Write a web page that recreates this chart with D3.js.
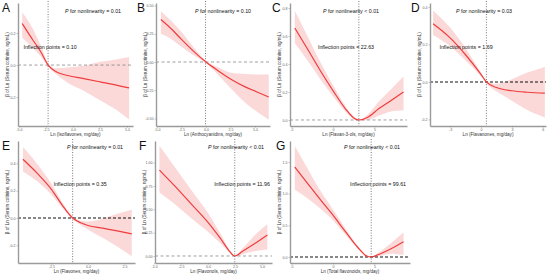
<!DOCTYPE html>
<meta charset="utf-8">
<script src="https://d3js.org/d3.v7.min.js"></script>
<style>
  body { margin: 0; background: #fff; }
  text { font-family: "Liberation Sans", Arial, sans-serif; }
</style>
<body></body>
<script>

// values: x in Ln(mg/day), fit + 95% CI of beta
var isoX   = [-4.7, -3.7, -3.0, -2.3, -1.6, -0.5, 1.0, 2.5, 4.0, 5.2];
var isoFit = [0.26, 0.155, 0.085, 0.0, -0.04, -0.065, -0.085, -0.105, -0.125, -0.143];
var isoLo  = [0.17, 0.105, 0.055, -0.01, -0.055, -0.11, -0.16, -0.22, -0.28, -0.34];
var isoHi  = [0.33, 0.225, 0.125, 0.01, -0.02, -0.015, -0.005, 0.02, 0.035, 0.05];

var antX   = [-4.6, -3.5, -2.5, -1.2, 0, 1.2, 2.5, 4.0, 5.2, 6.4];
var antFit = [0.376, 0.29, 0.2, 0.09, 0, -0.075, -0.15, -0.22, -0.265, -0.31];
var antLo  = [0.25, 0.2, 0.135, 0.055, -0.01, -0.11, -0.23, -0.36, -0.44, -0.51];
var antHi  = [0.45, 0.36, 0.265, 0.125, 0.01, -0.045, -0.095, -0.105, -0.11, -0.11];

var fl3X   = [-4.6, -3.0, -1.5, 0, 1.5, 2.5, 3.12, 4.2, 5.5, 7.0, 8.5];
var fl3Fit = [0.657, 0.5, 0.35, 0.21, 0.08, 0.015, 0, 0.02, 0.08, 0.14, 0.2];
var fl3Lo  = [0.55, 0.42, 0.29, 0.17, 0.06, 0.005, -0.005, 0.0, 0.03, 0.06, 0.07];
var fl3Hi  = [0.78, 0.59, 0.41, 0.25, 0.1, 0.025, 0.005, 0.04, 0.13, 0.22, 0.31];

var fnoX   = [-4.65, -3.0, -1.5, 0, 0.52, 1.5, 3.0, 4.5, 6.2];
var fnoFit = [0.31, 0.235, 0.145, 0.04, 0, -0.03, -0.047, -0.055, -0.06];
var fnoLo  = [0.25, 0.19, 0.115, 0.03, -0.008, -0.05, -0.1, -0.15, -0.19];
var fnoHi  = [0.38, 0.29, 0.18, 0.05, 0.008, -0.01, 0.015, 0.05, 0.08];

var flvX   = [-4.45, -3.5, -2.5, -1.8, -1.05, -0.5, 0, 1.0, 2.0, 3.0];
var flvFit = [0.43, 0.33, 0.21, 0.1, 0, -0.035, -0.055, -0.075, -0.095, -0.117];
var flvLo  = [0.34, 0.27, 0.17, 0.08, -0.01, -0.05, -0.085, -0.145, -0.21, -0.28];
var flvHi  = [0.52, 0.4, 0.25, 0.12, 0.01, -0.02, -0.025, -0.005, 0.03, 0.06];

var folX   = [-4.5, -3.0, -1.5, 0, 1.2, 2.0, 2.48, 3.2, 4.3, 5.5];
var folFit = [0.92, 0.74, 0.55, 0.36, 0.18, 0.05, 0, 0.05, 0.13, 0.225];
var folLo  = [0.68, 0.55, 0.4, 0.26, 0.13, 0.035, -0.005, 0.02, 0.05, 0.07];
var folHi  = [1.18, 0.94, 0.7, 0.46, 0.23, 0.065, 0.005, 0.08, 0.22, 0.34];

var totX   = [-4.6, -3.0, -1.5, 0, 1.5, 3.0, 4.0, 4.6, 5.5, 7.0, 8.5];
var totFit = [1.42, 1.15, 0.9, 0.66, 0.4, 0.15, 0.02, 0, 0.04, 0.13, 0.24];
var totLo  = [1.06, 0.92, 0.76, 0.58, 0.35, 0.13, 0.01, -0.005, 0.01, 0.05, 0.03];
var totHi  = [1.75, 1.38, 1.04, 0.75, 0.45, 0.17, 0.03, 0.005, 0.07, 0.22, 0.39];

var letters   = ["A", "B", "C", "D", "E", "F", "G"];
var xTitles   = ["Isoflavones", "Anthocyanidins", "Flavan-3-ols", "Flavanones", "Flavones", "Flavonols", "Total flavonoids"];
var pTexts    = ["= 0.01", "= 0.10", "< 0.01", "= 0.03", "= 0.01", "< 0.01", "< 0.01"];
var inflection = [0.10, null, 22.63, 1.69, 0.35, 11.96, 99.61];

var xTickSets = [[-5, -2.5, 0, 2.5, 5], [-5, -2.5, 0, 2.5, 5], [-5, 0, 5], [-3, 0, 3, 6],
                 [-2.5, 0, 2.5], [-5, -2.5, 0, 2.5, 5], [-5, 0, 5]];
var yTickSets = [[-0.2, 0, 0.2], [-0.5, -0.25, 0, 0.25, 0.5], [0, 0.2, 0.4, 0.6, 0.8], [-0.2, 0, 0.2, 0.4],
                 [-0.2, 0, 0.2, 0.4], [0, 0.25, 0.5, 0.75, 1], [0, 0.5, 1, 1.5]];

// panel layout (pixels) and axis ranges
var panels = [
  {x: isoX, fit: isoFit, lo: isoLo, hi: isoHi, l: 18,  r: 133, t: 3,   b: 126, xd: [-5.09, 5.56], yd: [-0.381, 0.388], xf: ".1f", yf: ".1f", heavy: false, pt: [93, 12.5],  it: [50, 49],   lx: 2,   ly: 12},
  {x: antX, fit: antFit, lo: antLo, hi: antHi, l: 156, r: 270, t: 3,   b: 126, xd: [-5.1, 6.53],  yd: [-0.566, 0.522], xf: ".1f", yf: ".2f", heavy: false, pt: [223, 12.5], it: null,      lx: 137, ly: 12, vl: -0.05},
  {x: fl3X, fit: fl3Fit, lo: fl3Lo, hi: fl3Hi, l: 290, r: 407, t: 3,   b: 126, xd: [-5.18, 8.92], yd: [-0.043, 0.836], xf: "d",   yf: ".1f", heavy: false, pt: [351, 12.5], it: [346, 49],  lx: 272, ly: 12},
  {x: fnoX, fit: fnoFit, lo: fnoLo, hi: fnoHi, l: 430, r: 546, t: 3,   b: 126, xd: [-4.95, 6.31], yd: [-0.235, 0.421], xf: "d",   yf: ".1f", heavy: true,  pt: [484, 12.5], it: [466, 49],  lx: 411, ly: 12},
  {x: flvX, fit: flvFit, lo: flvLo, hi: flvHi, l: 18,  r: 135, t: 141, b: 263, xd: [-4.79, 3.22], yd: [-0.33, 0.564],  xf: ".1f", yf: ".1f", heavy: true,  pt: [95, 149],   it: [80, 185.5], lx: 2,  ly: 150},
  {x: folX, fit: folFit, lo: folLo, hi: folHi, l: 155, r: 272, t: 141, b: 263, xd: [-4.91, 5.93], yd: [-0.075, 1.232], xf: ".1f", yf: ".2f", heavy: false, pt: [236, 149],  it: [242, 185.5], lx: 139, ly: 150},
  {x: totX, fit: totFit, lo: totLo, hi: totHi, l: 290, r: 410, t: 141, b: 263, xd: [-5.18, 9.28], yd: [-0.095, 1.83],  xf: "d",   yf: ".1f", heavy: true,  pt: [372, 149],  it: [378, 185.5], lx: 276, ly: 150}
];

var svg = d3.select("body").append("svg")
  .attr("width", 550)
  .attr("height", 276);

function fmt(f) {
  var g = d3.format(f);
  return function(d) { return g(d).replace("\u2212", "-"); };
}

panels.forEach(function(p, i) {
  var xScale = d3.scaleLinear().domain(p.xd).range([p.l, p.r]);
  var yScale = d3.scaleLinear().domain(p.yd).range([p.b, p.t]);
  var g = svg.append("g");

  var rows = p.x.map(function(v, k) { return {x: v, fit: p.fit[k], lo: p.lo[k], hi: p.hi[k]}; });

  // confidence band
  g.append("path")
    .datum(rows)
    .attr("d", d3.area()
      .x(function(d) { return xScale(d.x); })
      .y0(function(d) { return yScale(d.lo); })
      .y1(function(d) { return yScale(d.hi); })
      .curve(d3.curveMonotoneX))
    .style("fill", "#fbd9d9");

  // reference lines
  g.append("line")
    .attr("x1", p.l).attr("x2", p.r)
    .attr("y1", yScale(0)).attr("y2", yScale(0))
    .style("stroke", p.heavy ? "#111" : "#777")
    .style("stroke-width", p.heavy ? 1.1 : 0.7)
    .style("stroke-dasharray", p.heavy ? "3,2" : "3,2.5");

  var vx = inflection[i] ? Math.log(inflection[i]) : p.vl;
  g.append("line")
    .attr("x1", xScale(vx)).attr("x2", xScale(vx))
    .attr("y1", p.t - 2).attr("y2", p.b)
    .style("stroke", "#555")
    .style("stroke-width", 0.8)
    .style("stroke-dasharray", "1,1.6");

  // fitted curve
  g.append("path")
    .datum(rows)
    .attr("d", d3.line()
      .x(function(d) { return xScale(d.x); })
      .y(function(d) { return yScale(d.fit); })
      .curve(d3.curveMonotoneX))
    .style("fill", "none")
    .style("stroke", "#f03c3c")
    .style("stroke-width", 1.2);

  // axes
  var xAxisGroup = g.append("g")
    .attr("transform", "translate(0," + p.b + ")")
    .call(d3.axisBottom(xScale).tickValues(xTickSets[i]).tickSize(1.5).tickSizeOuter(0).tickPadding(1).tickFormat(fmt(p.xf)));
  var yAxisGroup = g.append("g")
    .attr("transform", "translate(" + p.l + ",0)")
    .call(d3.axisLeft(yScale).tickValues(yTickSets[i]).tickSize(1.5).tickSizeOuter(0).tickPadding(1).tickFormat(fmt(p.yf)));

  [xAxisGroup, yAxisGroup].forEach(function(a) {
    a.select(".domain").style("stroke", "#9a9a9a").style("stroke-width", 1.4);
    a.selectAll(".tick line").style("stroke", "#888").style("stroke-width", 0.5);
    a.selectAll(".tick text").style("font-size", "3.6px").style("fill", "#666")
      .style("font-family", "Liberation Sans, Arial, sans-serif");
  });

  // axis titles
  g.append("text")
    .attr("x", (p.l + p.r) / 2)
    .attr("y", p.b + 9.5)
    .attr("text-anchor", "middle")
    .style("font-size", "4.6px")
    .style("fill", "#333")
    .text("Ln (" + xTitles[i] + ", mg/day)");

  g.append("text")
    .attr("transform", "translate(" + (p.l - 9.5) + "," + ((p.t + p.b) / 2) + ") rotate(-90)")
    .attr("text-anchor", "middle")
    .style("font-size", "4.6px")
    .style("fill", "#333")
    .text("\u03b2 of Ln (Serum cotinine, ng/mL)");

  // annotations
  var pt = g.append("text")
    .attr("x", p.pt[0]).attr("y", p.pt[1])
    .attr("text-anchor", "middle")
    .style("font-size", "5.3px")
    .style("fill", "#111");
  pt.append("tspan").style("font-style", "italic").text("P");
  pt.append("tspan").text(" for nonlinearity " + pTexts[i]);

  if (p.it) {
    g.append("text")
      .attr("x", p.it[0]).attr("y", p.it[1])
      .attr("text-anchor", "middle")
      .style("font-size", "5.3px")
      .style("fill", "#111")
      .text("Inflection points = " + d3.format(".2f")(inflection[i]));
  }

  g.append("text")
    .attr("x", p.lx).attr("y", p.ly)
    .style("font-size", "12px")
    .style("fill", "#111")
    .text(letters[i]);
});

</script>
